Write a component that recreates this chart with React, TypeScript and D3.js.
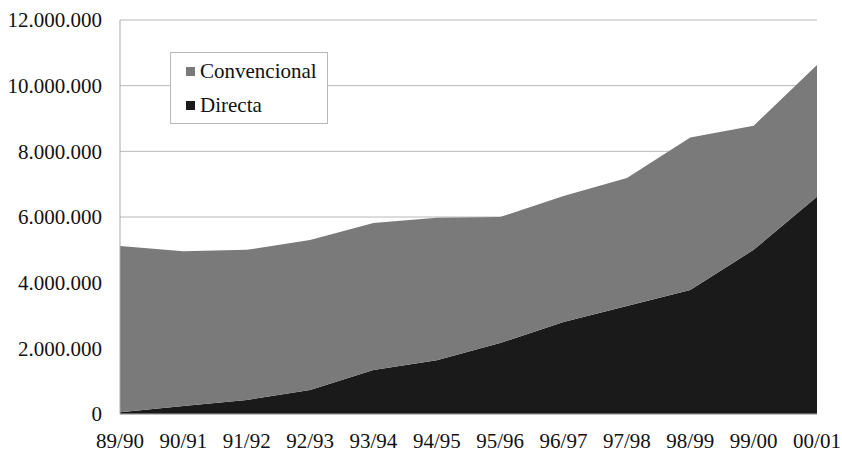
import React from "react";
import * as d3 from "d3";

const seasons = ["89/90", "90/91", "91/92", "92/93", "93/94", "94/95", "95/96", "96/97", "97/98", "98/99", "99/00", "00/01"];
const directa = [50000, 240000, 430000, 730000, 1340000, 1640000, 2160000, 2800000, 3290000, 3780000, 5000000, 6620000];
const convencional = [5070000, 4720000, 4570000, 4570000, 4480000, 4340000, 3840000, 3840000, 3900000, 4640000, 3780000, 4010000];
const yTicks = [0, 2000000, 4000000, 6000000, 8000000, 10000000, 12000000];
const seriesNames = ["Convencional", "Directa"];
const seriesColors = ["#7a7a7a", "#1a1a1a"];

const width = 842;
const height = 454;
const margin = { top: 20, right: 25, bottom: 40, left: 120 };
const font = "Liberation Serif, Times New Roman, serif";

const fmt = (v: number) => (v === 0 ? "0" : d3.format(",")(v).replace(/,/g, "."));

export default function App() {
  const x = d3.scalePoint().domain(seasons).range([margin.left, width - margin.right]);
  const y = d3.scaleLinear().domain([0, 12000000]).range([height - margin.bottom, margin.top]);

  const rows = seasons.map((s, i) => ({ season: s, Directa: directa[i], Convencional: convencional[i] }));
  const stack = d3.stack<any>().keys(["Directa", "Convencional"])(rows);

  const area = d3
    .area<any>()
    .x((d) => x(d.data.season) as number)
    .y0((d) => y(d[0]))
    .y1((d) => y(d[1]));

  const x0 = margin.left;
  const x1 = width - margin.right;

  return (
    <svg width={width} height={height} style={{ position: "absolute", left: 0, top: 0, background: "#fff" }}>
      {yTicks.map((t) => (
        <line key={t} x1={x0} x2={x1} y1={y(t)} y2={y(t)} stroke="#b8b8b8" strokeWidth={1} />
      ))}
      {stack.map((s) => (
        <path key={s.key} d={area(s) || ""} fill={s.key === "Directa" ? seriesColors[1] : seriesColors[0]} />
      ))}
      <line x1={x0} x2={x0} y1={y(12000000)} y2={y(0)} stroke="#a8a8a8" />
      <line x1={x0} x2={x1} y1={y(0)} y2={y(0)} stroke="#a8a8a8" />
      {yTicks.map((t) => (
        <text key={t} x={102} y={y(t)} dy="0.35em" textAnchor="end" style={{ fontFamily: font }} fontSize={21} fill="#111">
          {fmt(t)}
        </text>
      ))}
      {seasons.map((s) => (
        <text key={s} x={x(s)} y={448} textAnchor="middle" style={{ fontFamily: font }} fontSize={21} fill="#111">
          {s}
        </text>
      ))}
      <g>
        <rect x={170.5} y={52.5} width={157} height={71} fill="#fff" stroke="#b8b8b8" />
        {seriesNames.map((n, i) => (
          <g key={n}>
            <rect x={186} y={67 + i * 34} width={9} height={9} fill={seriesColors[i]} />
            <text x={200} y={78 + i * 34} style={{ fontFamily: font }} fontSize={21} fill="#111">
              {n}
            </text>
          </g>
        ))}
      </g>
    </svg>
  );
}
